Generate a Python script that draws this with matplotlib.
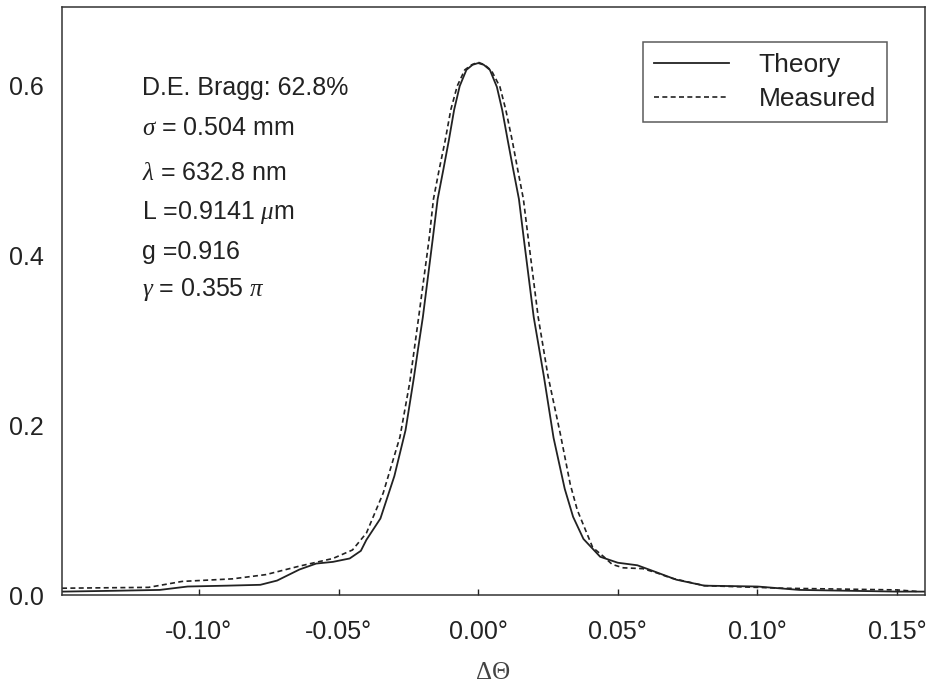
import matplotlib
matplotlib.use("Agg")
import matplotlib.pyplot as plt

# ---- data ----
theory_x = [-0.149, -0.130, -0.114, -0.104, -0.090, -0.078, -0.072, -0.064, -0.058,
            -0.052, -0.046, -0.042, -0.040, -0.035, -0.030, -0.026, -0.023, -0.0215,
            -0.0198, -0.0163, -0.0145, -0.0125, -0.0105, -0.0086, -0.0066, -0.0042,
            -0.002, 0.000, 0.002, 0.0042, 0.0067, 0.0086, 0.0106, 0.0126, 0.0146,
            0.0164, 0.0199, 0.0235, 0.027, 0.031, 0.034, 0.0377,
            0.0437, 0.050, 0.057, 0.062, 0.071, 0.081, 0.100, 0.115, 0.150, 0.160]
theory_y = [0.004, 0.005, 0.006, 0.010, 0.011, 0.012, 0.017, 0.030, 0.037,
            0.039, 0.043, 0.052, 0.065, 0.090, 0.140, 0.194, 0.256, 0.290,
            0.327, 0.418, 0.466, 0.500, 0.535, 0.571, 0.599, 0.618,
            0.624, 0.626, 0.624, 0.618, 0.598, 0.571, 0.535, 0.500, 0.466,
            0.418, 0.327, 0.258, 0.185, 0.125, 0.092, 0.066,
            0.045, 0.038, 0.035, 0.029, 0.018, 0.011, 0.010, 0.006, 0.004, 0.004]

measured_x = [-0.149, -0.118, -0.106, -0.088, -0.076, -0.064, -0.052, -0.045, -0.040,
              -0.034, -0.028, -0.0245, -0.0213, -0.0176, -0.0160, -0.0140, -0.0118,
              -0.0098, -0.0075, -0.0048, -0.0023, 0.000, 0.0023, 0.0048, 0.0078,
              0.0099, 0.0122, 0.0142, 0.0162, 0.0180, 0.0215, 0.025, 0.0294, 0.033,
              0.0355, 0.041, 0.045, 0.048, 0.052, 0.059, 0.064, 0.069, 0.081,
              0.109, 0.150, 0.158]
measured_y = [0.008, 0.009, 0.016, 0.019, 0.024, 0.034, 0.043, 0.053, 0.073,
              0.120, 0.186, 0.250, 0.327, 0.418, 0.466, 0.500, 0.535,
              0.571, 0.599, 0.618, 0.624, 0.627, 0.624, 0.617, 0.598,
              0.571, 0.535, 0.500, 0.466, 0.418, 0.327, 0.258, 0.190, 0.130,
              0.100, 0.056, 0.045, 0.036, 0.032, 0.031, 0.026, 0.020, 0.011,
              0.008, 0.006, 0.004]

x_ticks = [-0.10, -0.05, 0.00, 0.05, 0.10, 0.15]
x_tick_labels = ["-0.10°", "-0.05°", "0.00°", "0.05°", "0.10°", "0.15°"]
y_ticks = [0.0, 0.2, 0.4, 0.6]
y_tick_labels = ["0.0", "0.2", "0.4", "0.6"]

info_lines = ["D.E. Bragg: 62.8%",
              r"$\sigma$ = 0.504 mm",
              r"$\lambda$ = 632.8 nm",
              r"L =0.9141 $\mu$m",
              "g =0.916",
              r"$\gamma$ = 0.355 $\pi$"]

# ---- style ----
plt.rcParams['font.family'] = ['Liberation Sans', 'DejaVu Sans']
plt.rcParams['mathtext.fontset'] = 'custom'
plt.rcParams['mathtext.rm'] = 'Liberation Sans'
plt.rcParams['mathtext.it'] = 'Liberation Serif:italic'
plt.rcParams['mathtext.bf'] = 'Liberation Sans:bold'

ink = '#222222'
fig = plt.figure(figsize=(9.33, 6.87), dpi=100)
ax = fig.add_axes([0.0665, 0.1339, 0.9249, 0.8559])

ax.plot(theory_x, theory_y, color=ink, lw=1.3, ls='-', label='Theory')
ax.plot(measured_x, measured_y, color=ink, lw=1.2, ls=(0, (3, 2)), label='Measured')

ax.set_xlim(-0.149, 0.160)
ax.set_ylim(0.0, 0.692)

ax.set_xticks(x_ticks)
ax.set_xticklabels(x_tick_labels)
ax.set_yticks(y_ticks)
ax.set_yticklabels(y_tick_labels)
ax.tick_params(axis='x', direction='in', length=4, width=1, colors=ink,
               labelsize=18, pad=18, top=False)
ax.tick_params(axis='y', length=0, labelsize=18, pad=13, colors=ink)
for sp in ax.spines.values():
    sp.set_linewidth(1.1)
    sp.set_color('#333333')

ax.set_xlabel("ΔΘ", family=['Liberation Serif', 'DejaVu Serif'], fontsize=18,
              color='#444444', labelpad=13)

ys = [0.862, 0.794, 0.718, 0.650, 0.583, 0.519]
for s, yy in zip(info_lines, ys):
    ax.text(0.0927, yy, s, transform=ax.transAxes, fontsize=18, color=ink,
            va='center', ha='left')

leg = ax.legend(loc='upper right', bbox_to_anchor=(0.9560, 0.941), borderaxespad=0,
                fancybox=False, fontsize=19, handlelength=2.84, handletextpad=1.14,
                borderpad=0.42, labelspacing=0.40)
leg.get_frame().set_edgecolor('#333333')
leg.get_frame().set_linewidth(1.1)
for t in leg.get_texts():
    t.set_color(ink)

fig.savefig("out.png", dpi=100)
